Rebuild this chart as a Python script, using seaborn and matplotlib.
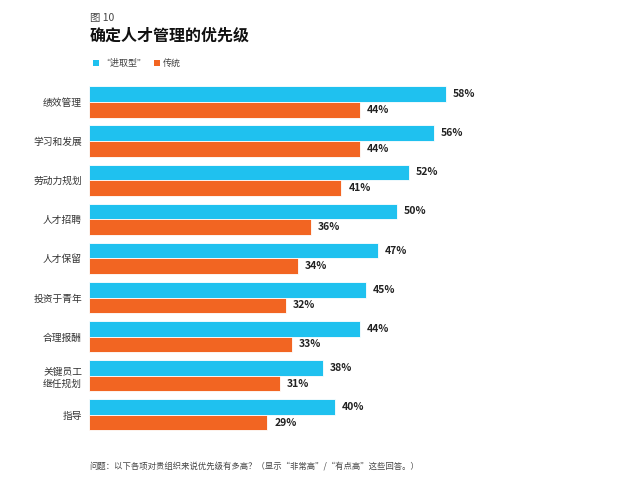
import numpy as np
import pandas as pd
import seaborn as sns
import matplotlib.pyplot as plt
from matplotlib.patches import Patch

# data
categories = ['绩效管理', '学习和发展', '劳动力规划', '人才招聘', '人才保留',
              '投资于青年', '合理报酬', '关键员工\n继任规划', '指导']
aggressive = [58, 56, 52, 50, 47, 45, 44, 38, 40]
traditional = [44, 44, 41, 36, 34, 32, 33, 31, 29]
series = ['“进取型”', '传统']
colors = ['#1fc1ef', '#f26522']

sns.set_style('white')
plt.rcParams['font.family'] = ['Noto Sans CJK SC', 'DejaVu Sans']

df = pd.DataFrame({
    'cat': categories * 2,
    'val': aggressive + traditional,
    'series': [series[0]] * len(categories) + [series[1]] * len(categories),
})

fig = plt.figure(figsize=(6.4, 4.83), dpi=100)
ax = fig.add_axes([0.139, 0.1006, 0.7694, 0.7288])

sns.barplot(data=df, x='val', y='cat', hue='series', order=categories,
            hue_order=series, palette=colors, orient='h', width=0.8,
            saturation=1, legend=False, ax=ax)

for cont in ax.containers:
    for bar in cont:
        bar.set_edgecolor('white')
        bar.set_linewidth(0.6)
    ax.bar_label(cont, labels=[f'{v:.0f}%' for v in cont.datavalues],
                 padding=5, fontsize=7.5, color='#222222', fontweight='bold')

ax.set_xlim(0, 80)
ax.set_ylim(8.5, -0.5)
ax.set_xlabel('')
ax.set_ylabel('')
ax.set_xticks([])
ax.tick_params(axis='y', length=0, pad=5, labelsize=7, labelcolor='#333333')
for lbl in ax.get_yticklabels():
    lbl.set_horizontalalignment('right')
    lbl.set_multialignment('right')
sns.despine(ax=ax, left=True, bottom=True)

fig.text(0.14, 0.963, '图 10', fontsize=7.5, color='#444444', va='center')
fig.text(0.14, 0.927, '确定人才管理的优先级', fontsize=11.5, fontweight='bold',
         color='#111111', va='center')

handles = [Patch(facecolor=c, edgecolor='none') for c in colors]
fig.legend(handles, series, loc='center left', bbox_to_anchor=(0.132, 0.868),
           ncol=2, frameon=False, fontsize=6.5, handlelength=0.7,
           handleheight=0.7, handletextpad=0.3, columnspacing=0.8,
           labelcolor='#444444')

fig.text(0.14, 0.033, '问题：以下各项对贵组织来说优先级有多高？（显示“非常高”/“有点高”这些回答。）',
         fontsize=6, color='#444444', va='center')

fig.savefig('out.png', dpi=100)
